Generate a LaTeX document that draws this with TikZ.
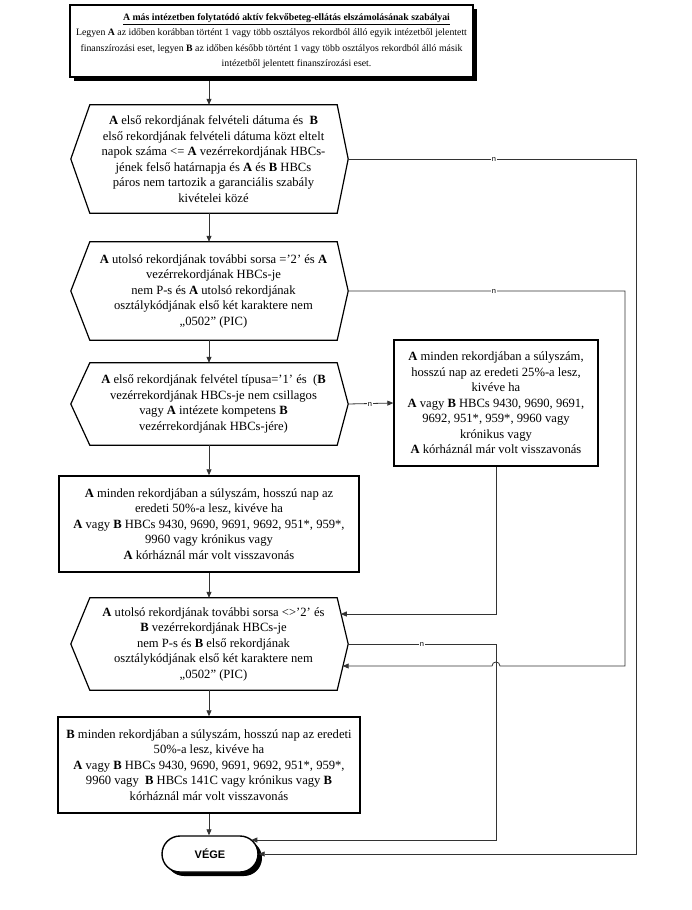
\documentclass[tikz,border=0pt]{standalone}
\usepackage{fontspec}
\setmainfont{Liberation Serif}
\setsansfont{Liberation Sans}
\usetikzlibrary{arrows.meta,shadows}
\begin{document}
\begin{tikzpicture}[x=1pt,y=-1pt,
  txt/.style={font=\fontsize{12.6}{15.5}\selectfont, align=center, inner sep=0pt},
  hexnode/.style={txt, minimum width=247pt},
  hexline/.style={draw=black, line width=1.2pt, line join=miter},
  boxnode/.style={txt, draw=black, line width=1.5pt, fill=white},
  conn/.style={draw=black!80, line width=0.8pt},
  arr/.style={conn, -{Triangle[length=6pt,width=5pt]}},
  nlab/.style={fill=white, inner sep=0.6pt, font=\sffamily\fontsize{7.5}{7.5}\selectfont}
]
\useasboundingbox (0,0) rectangle (692,910);
\fill[white] (0,0) rectangle (692,910);

% top box
\node[boxnode, font=\fontsize{9.8}{15.5}\selectfont, line width=1.4pt, minimum width=403pt, minimum height=72pt,
      drop shadow={shadow xshift=4pt, shadow yshift=-4pt, opacity=1, fill=black}]
  (top) at (271.5,41) {\hspace*{30pt}\underline{\textbf{A más intézetben folytatódó aktív fekvőbeteg-ellátás elszámolásának szabályai}}\\
Legyen \textbf{A} az időben korábban történt 1 vagy több osztályos rekordból álló egyik intézetből jelentett\\
finanszírozási eset, legyen \textbf{B} az időben később történt 1 vagy több osztályos rekordból álló másik\\
\hspace*{50pt}intézetből jelentett finanszírozási eset.};

% hexagons
\node[hexnode, minimum height=108pt] (h1) at (213.5,159) {\textbf{A} első rekordjának felvételi dátuma és~ \textbf{B}\\
első rekordjának felvételi dátuma közt eltelt\\
napok száma <= \textbf{A} vezérrekordjának HBCs-\\
jének felső határnapja és \textbf{A} és \textbf{B} HBCs\\
páros nem tartozik a garanciális szabály\\
kivételei közé};
\node[hexnode, minimum height=98pt] (h2) at (213.5,291) {\textbf{A} utolsó rekordjának további sorsa ='2' és \textbf{A}\\
vezérrekordjának HBCs-je\\
nem P-s és \textbf{A} utolsó rekordjának\\
osztálykódjának első két karaktere nem\\
„0502" (PIC)};
\node[hexnode, minimum height=82pt] (h3) at (213.5,404) {\textbf{A} első rekordjának felvétel típusa='1' és~ (\textbf{B}\\
vezérrekordjának HBCs-je nem csillagos\\
vagy \textbf{A} intézete kompetens \textbf{B}\\
vezérrekordjának HBCs-jére)};
\node[hexnode, minimum height=92pt] (h4) at (213.5,644) {\textbf{A} utolsó rekordjának további sorsa <>'2' és\\
\textbf{B} vezérrekordjának HBCs-je\\
nem P-s és \textbf{B} első rekordjának\\
osztálykódjának első két karaktere nem\\
„0502" (PIC)};

\foreach \h in {h1,h2,h3,h4}{
  \draw[hexline] (\h.north west) -- (\h.north east) -- ([xshift=11pt]\h.east)
     -- (\h.south east) -- (\h.south west) -- ([xshift=-19pt]\h.west) -- cycle;
  \coordinate (\h r) at ([xshift=11pt]\h.east);
}

% rectangles
\node[boxnode, line width=1.3pt, minimum width=204pt, minimum height=126pt] (b25) at (496,403) {\textbf{A} minden rekordjában a súlyszám,\\
hosszú nap az eredeti 25\%-a lesz,\\
kivéve ha\\
\textbf{A} vagy \textbf{B} HBCs 9430, 9690, 9691,\\
9692, 951*, 959*, 9960 vagy\\
krónikus vagy\\
\textbf{A} kórháznál már volt visszavonás};
\node[boxnode, minimum width=300pt, minimum height=96pt] (b50) at (209,524) {\textbf{A} minden rekordjában a súlyszám, hosszú nap az\\
eredeti 50\%-a lesz, kivéve ha\\
\textbf{A} vagy \textbf{B} HBCs 9430, 9690, 9691, 9692, 951*, 959*,\\
9960 vagy krónikus vagy\\
\textbf{A} kórháznál már volt visszavonás};
\node[boxnode, minimum width=302pt, minimum height=96pt] (bB) at (209,765) {\textbf{B} minden rekordjában a súlyszám, hosszú nap az eredeti\\
50\%-a lesz, kivéve ha\\
\textbf{A} vagy \textbf{B} HBCs 9430, 9690, 9691, 9692, 951*, 959*,\\
9960 vagy~ \textbf{B} HBCs 141C vagy krónikus vagy \textbf{B}\\
kórháznál már volt visszavonás};

% end
\node[draw=black, line width=1.4pt, fill=white, rounded corners=18pt, minimum width=96pt, minimum height=36pt,
      inner sep=0pt, font=\sffamily\bfseries\fontsize{11}{12}\selectfont,
      drop shadow={shadow xshift=4pt, shadow yshift=-4pt, opacity=1, fill=black}]
  (end) at (210,854) {VÉGE};

% spine coordinates
\coordinate (sp) at (209,0);
\coordinate (topout) at (209,81);
\coordinate (h4in1) at (340.8,614);
\coordinate (h4in2) at (342.7,666);
\coordinate (endin1) at (251.3,840);

% vertical flow
\draw[arr] (topout) -- (h1.north -| sp);
\draw[arr] (h1.south -| sp) -- (h2.north -| sp);
\draw[arr] (h2.south -| sp) -- (h3.north -| sp);
\draw[arr] (h3.south -| sp) -- (b50.north -| sp);
\draw[arr] (b50.south -| sp) -- (h4.north -| sp);
\draw[arr] (h4.south -| sp) -- (bB.north -| sp);
\draw[arr] (bB.south -| sp) -- (end.north -| sp);

% right routes
\coordinate (c1a) at (636,159);
\coordinate (c1b) at (636,854);
\draw[arr] (h1r) -- (c1a) -- (c1b) -- (end.east);
\node[nlab] (n1) at (494,159) {n};

\coordinate (c2a) at (625,291);
\coordinate (c2b) at (625,666);
\coordinate (hopR) at (500,666);
\coordinate (hopL) at (492,666);
\draw[arr] (h2r) -- (c2a) -- (c2b) -- (hopR) .. controls (500,660.7) and (492,660.7) .. (hopL) -- (h4in2);
\node[nlab] (n2) at (494,291) {n};

\draw[arr] (h3r) -- (b25.west);
\node[nlab] (n3) at (370,404) {n};

\coordinate (c4a) at (496,614);
\draw[arr] (b25.south) -- (c4a) -- (h4in1);

\coordinate (c5a) at (496,644);
\coordinate (c5b) at (496,840);
\draw[arr] (h4r) -- (c5a) -- (c5b) -- (endin1);
\node[nlab] (n4) at (422,644) {n};
\end{tikzpicture}
\end{document}
